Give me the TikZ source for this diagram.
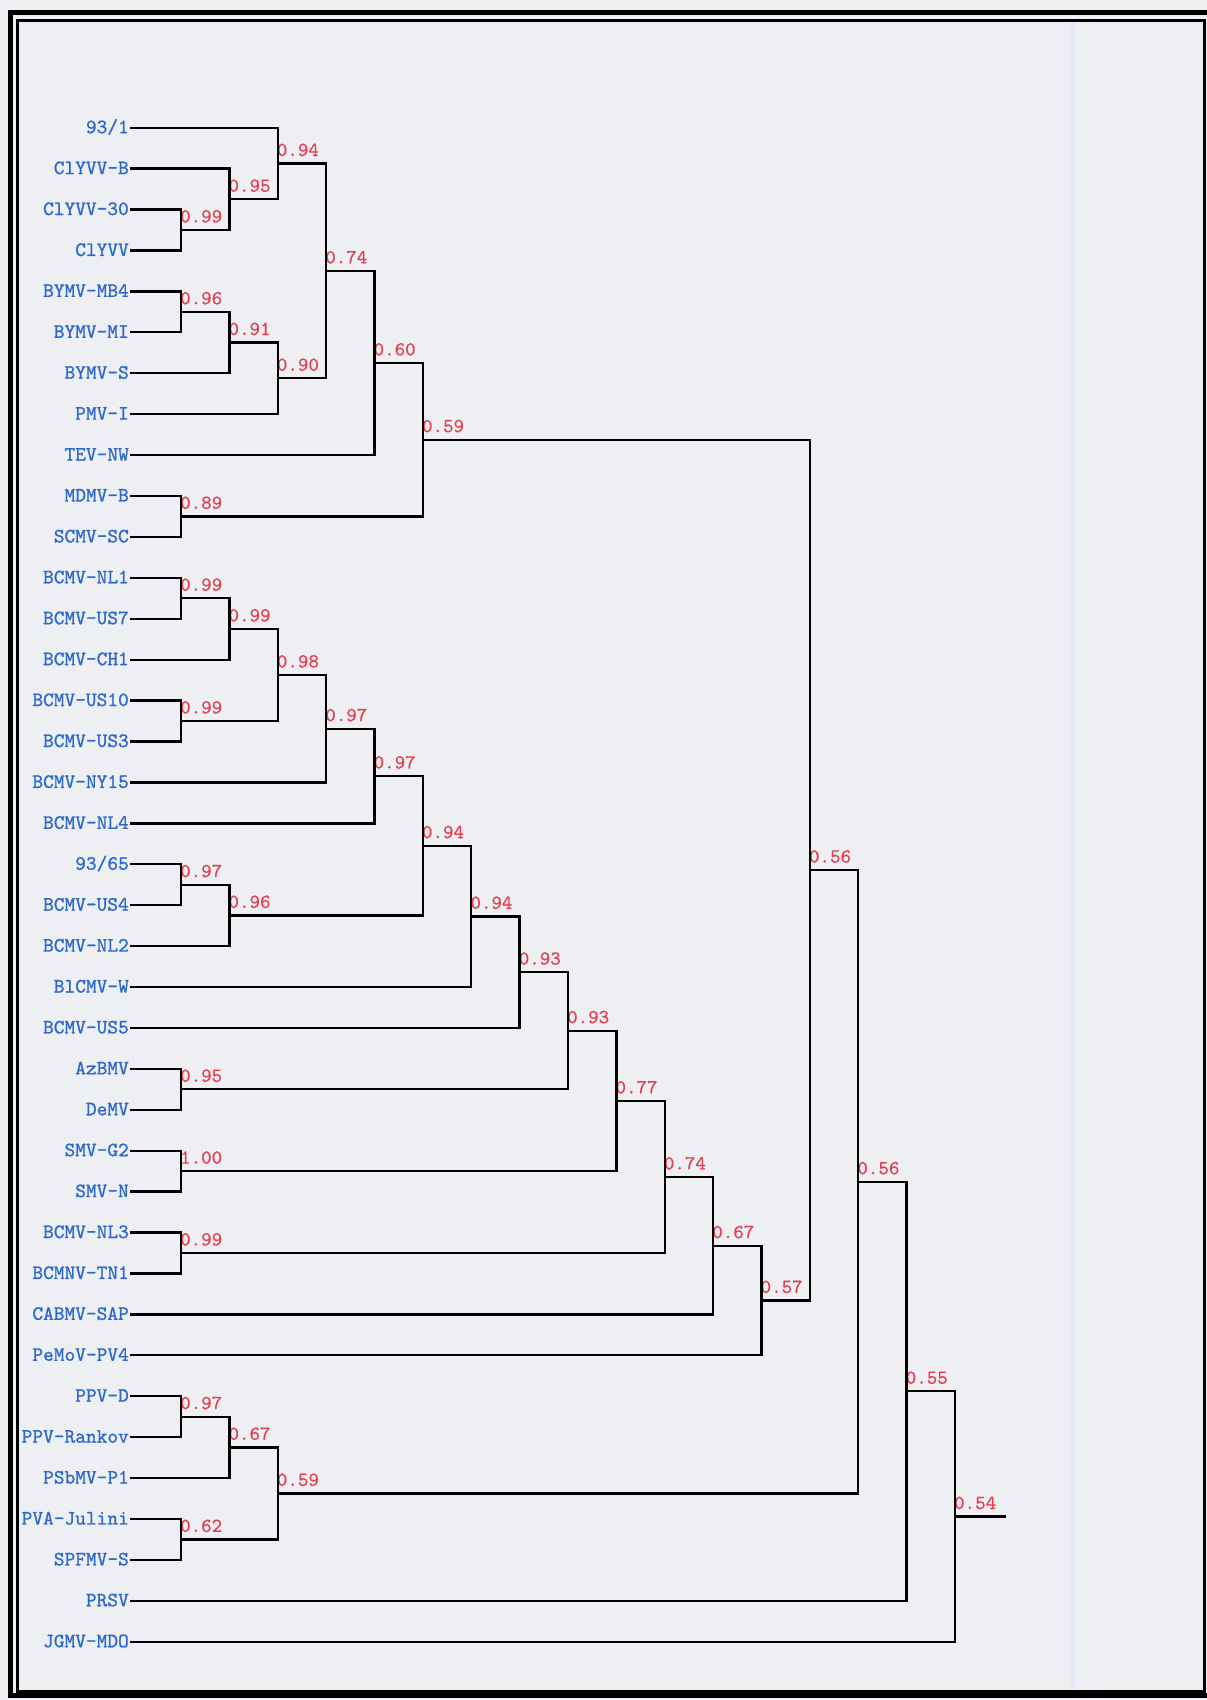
\documentclass[tikz,border=0pt]{standalone}
\usepackage{fontspec}
\newfontfamily\dendfont{lmmono10-regular.otf}[FakeBold=1.0]
\newfontfamily\valfont{lmmono10-regular.otf}[FakeBold=0.4]
\definecolor{paper}{RGB}{237,239,243}
\definecolor{leafblue}{RGB}{45,105,205}
\definecolor{valred}{RGB}{228,62,78}
\definecolor{scanline}{RGB}{228,231,247}
\newcommand\colx[1]{132.6+48.375*#1}
\newcommand\rowy[1]{127.7+40.92*#1}
\begin{document}
\begin{tikzpicture}[x=1pt,y=-1pt,
  leaf/.style={font=\dendfont\fontsize{20.4}{20}\selectfont, text=leafblue, anchor=base east, inner sep=0pt, xshift=-2pt, yshift=-5.5pt},
  val/.style={font=\valfont\fontsize{20}{20}\selectfont, text=valred, anchor=base west, inner sep=0pt, xshift=-1pt, yshift=7.5pt},
  branch/.style={line width=2.3pt, black, line cap=rect, line join=miter}]
\useasboundingbox (0,0) rectangle (1207,1700);
\fill[paper] (0,0) rectangle (1207,1700);
% faint scan lines
\draw[line width=4pt, scanline] (1073,22) -- (1073,1689);
\draw[line width=2.5pt, scanline!50!paper] (1094,22) -- (1094,1689);
% frame
\draw[line width=5pt, black] (10,12) rectangle (1214,1695);
\draw[line width=3pt, black] (17,20.5) rectangle (1204.5,1691);
% leaves
\foreach \t [count=\i from 0] in {{93/1},{ClYVV-B},{ClYVV-30},{ClYVV},{BYMV-MB4},{BYMV-MI},{BYMV-S},{PMV-I},{TEV-NW},{MDMV-B},{SCMV-SC},{BCMV-NL1},{BCMV-US7},{BCMV-CH1},{BCMV-US10},{BCMV-US3},{BCMV-NY15},{BCMV-NL4},{93/65},{BCMV-US4},{BCMV-NL2},{BlCMV-W},{BCMV-US5},{AzBMV},{DeMV},{SMV-G2},{SMV-N},{BCMV-NL3},{BCMNV-TN1},{CABMV-SAP},{PeMoV-PV4},{PPV-D},{PPV-Rankov},{PSbMV-P1},{PVA-Julini},{SPFMV-S},{PRSV},{JGMV-MDO}}{
  \coordinate (l\i) at (131,{\rowy{\i}});
  \node[leaf] (n\i) at (l\i) {\t};
}
% internal nodes: name / column / row / value
\foreach \n/\c/\r/\v in {A/1/2.5/0.99, B/2/1.75/0.95, C/3/0.875/0.94, D/1/4.5/0.96, E/2/5.25/0.91, F/3/6.125/0.90, G/4/3.5/0.74, H/5/5.75/0.60, I/1/9.5/0.89, J/6/7.625/0.59, K/1/11.5/0.99, L/2/12.25/0.99, M/1/14.5/0.99, N/3/13.375/0.98, O/4/14.6875/0.97, P/5/15.84375/0.97, Q/1/18.5/0.97, R/2/19.25/0.96, S/6/17.546875/0.94, T/7/19.2734375/0.94, U/8/20.63671875/0.93, V/1/23.5/0.95, W/9/22.068359375/0.93, X/1/25.5/1.00, Y/10/23.7841796875/0.77, Z/1/27.5/0.99, AA/11/25.64208984375/0.74, AB/12/27.321044921875/0.67, AC/13/28.6605224609375/0.57, AD/14/18.14276123046875/0.56, AE/1/31.5/0.97, AF/2/32.25/0.67, AG/1/34.5/0.62, AH/3/33.375/0.59, AI/15/25.758880615234375/0.56, AJ/16/30.879440307617188/0.55, AK/17/33.939720153808594/0.54}{
  \coordinate (\n) at ({\colx{\c}},{\rowy{\r}});
  \node[val] (v\n) at (\n) {\v};
}
\coordinate (root) at (1005,{\rowy{33.939720153808594}});
% branches
\foreach \a/\b in {l2/A, l3/A, l1/B, A/B, l0/C, B/C, l4/D, l5/D, D/E, l6/E, E/F, l7/F, C/G, F/G, G/H, l8/H, l9/I, l10/I, H/J, I/J, l11/K, l12/K, K/L, l13/L, l14/M, l15/M, L/N, M/N, N/O, l16/O, O/P, l17/P, l18/Q, l19/Q, Q/R, l20/R, P/S, R/S, S/T, l21/T, T/U, l22/U, l23/V, l24/V, U/W, V/W, l25/X, l26/X, W/Y, X/Y, l27/Z, l28/Z, Y/AA, Z/AA, AA/AB, l29/AB, AB/AC, l30/AC, J/AD, AC/AD, l31/AE, l32/AE, AE/AF, l33/AF, l34/AG, l35/AG, AF/AH, AG/AH, AD/AI, AH/AI, AI/AJ, l36/AJ, AJ/AK, l37/AK}{
  \draw[branch] (\a) -| (\b);
}
\draw[branch] (AK) -- (root);
\end{tikzpicture}
\end{document}
